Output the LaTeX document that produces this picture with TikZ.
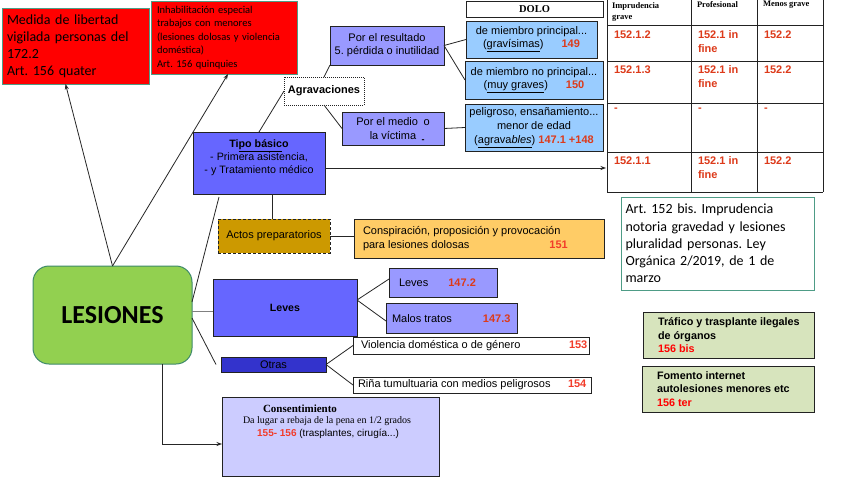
\documentclass[tikz,border=0pt]{standalone}
\usepackage{fontspec}
\setmainfont{Liberation Sans}
\newfontfamily\calib{Carlito}
\newfontfamily\tnr{Liberation Serif}
\usetikzlibrary{arrows.meta}
\definecolor{redfill}{HTML}{FF0000}
\definecolor{tealb}{HTML}{4E9C86}
\definecolor{lav}{HTML}{9999FF}
\definecolor{midblue}{HTML}{6666FF}
\definecolor{darkblue}{HTML}{3333CC}
\definecolor{lblue}{HTML}{99CCFF}
\definecolor{gold}{HTML}{CC9900}
\definecolor{lorange}{HTML}{FFCC66}
\definecolor{lgreen}{HTML}{92D050}
\definecolor{lesb}{HTML}{3E8A6A}
\definecolor{pgreen}{HTML}{D7E4BD}
\definecolor{lilac}{HTML}{CCCCFF}
\definecolor{numred}{HTML}{DD3A1A}
\definecolor{numredb}{HTML}{F23C2A}
\definecolor{lineg}{HTML}{222222}
\newcommand{\fsz}[2]{\fontsize{#1}{#2}\selectfont}
\frenchspacing
\begin{document}
\begin{tikzpicture}[x=1pt,y=-1pt,
  box/.style={draw=lineg, line width=1pt, inner sep=0pt, outer sep=0pt, align=center},
  txt/.style={inner sep=0pt, outer sep=0pt, align=left},
  cell/.style={inner sep=0pt, outer sep=0pt, align=left, anchor=north west, text=numred, font=\bfseries\fsz{11}{13.5}},
  hcell/.style={inner sep=0pt, outer sep=0pt, align=left, anchor=north west, font=\tnr\bfseries\fsz{8.5}{11}},
  conn/.style={draw=black!85, line width=0.8pt},
  arr/.style={conn, -{Stealth[length=5.5pt,width=4pt]}},
]
\fill[white] (0,0) rectangle (848,477);
\useasboundingbox (0,0) rectangle (848,477);

% red boxes
\node[box, draw=tealb, fill=redfill, minimum width=147pt, minimum height=76pt, text width=137pt, align=left, font=\calib\fsz{14}{17}] (red1) at (75.5,46) {Medida de libertad\\vigilada personas del\\172.2\\Art. 156 quater};
\node[box, draw=tealb, fill=redfill, minimum width=146pt, minimum height=73pt, text width=134pt, align=left, font=\calib\fsz{10.5}{13.5}] (red2) at (224,37.5) {Inhabilitación especial\\trabajos con menores\\(lesiones dolosas y violencia\\doméstica)\\Art. 156 quinquies};

% agravaciones
\node[box, fill=white, dash pattern=on 1pt off 1pt, minimum width=80pt, minimum height=28pt, font=\bfseries\fsz{11}{13}] (agrav) at (324,91) {Agravaciones};
\node[box, fill=lav, minimum width=114pt, minimum height=39pt, font=\fsz{11}{13}] (res) at (387,45.5) {Por el resultado\\5. pérdida o inutilidad};
\node[box, fill=lav, minimum width=102pt, minimum height=33pt, font=\fsz{11}{13.5}] (medio) at (393,128.5) {Por el medio\enspace o\\la víctima\hspace{10pt}};
\node[txt, font=\bfseries\fsz{9}{9}] (mdash) at (423,141) {-};

\node[box, fill=white, minimum width=137pt, minimum height=16pt, font=\tnr\bfseries\fsz{10.5}{12}] (dolo) at (534.5,9) {DOLO};
\node[box, fill=lblue, minimum width=131pt, minimum height=37pt, font=\fsz{11}{13}] (b1) at (531.5,39.5) {de miembro principal...\\(\underline{gravísimas})\hspace{18pt}\textcolor{numred}{\textbf{149}}};
\node[box, fill=lblue, minimum width=138pt, minimum height=38pt, font=\fsz{11}{13}] (b2) at (534,80) {de miembro no principal...\\(\underline{muy graves})\hspace{18pt}\textcolor{numred}{\textbf{150}}};
\node[box, fill=lblue, minimum width=138pt, minimum height=47pt, font=\fsz{11}{14}] (b3) at (534,127.5) {peligroso, ensañamiento...\\menor de edad\\(\underline{agrava\textit{bles}}) \textcolor{numred}{\textbf{147.1 +148}}};

% table
\foreach \xx in {607,691,757,823} \draw[lineg, line width=1pt] (\xx,-2) -- (\xx,192);
\foreach \yy in {25,61,103,152,192} \draw[lineg, line width=1pt] (607,\yy) -- (823,\yy);
\node[hcell] (h1) at (612,3) {Imprudencia\\grave};
\node[hcell] (h2) at (697,2) {Profesional};
\node[hcell] (h3) at (763,1) {Menos grave};
\node[cell] (c11) at (614,31) {152.1.2};
\node[cell] (c12) at (698,31) {152.1 in\\fine};
\node[cell] (c13) at (764,31) {152.2};
\node[cell] (c21) at (614,66) {152.1.3};
\node[cell] (c22) at (698,66) {152.1 in\\fine};
\node[cell] (c23) at (764,66) {152.2};
\node[cell] (c31) at (614,108) {-};
\node[cell] (c32) at (698,108) {-};
\node[cell] (c33) at (764,108) {-};
\node[cell] (c41) at (614,157) {152.1.1};
\node[cell] (c42) at (698,157) {152.1 in\\fine};
\node[cell] (c43) at (764,157) {152.2};
\coordinate (tabin) at (606,168);

% tipo basico and actos
\node[box, fill=midblue, minimum width=132pt, minimum height=62pt, font=\fsz{10.7}{13}] (tipo) at (259,163) {\textbf{Ti\underline{po básic}o}\\- Primera asistencia,\\- y Tratamiento médico\\\mbox{}};
\coordinate (tipoend) at (219,197);
\node[box, fill=gold, dash pattern=on 3pt off 2pt, minimum width=112pt, minimum height=34pt, font=\fsz{11}{13}] (actos) at (274,236) {Actos preparatorios};
\node[box, fill=lorange, minimum width=250pt, minimum height=39pt] (consp) at (479,238.5) {};
\node[txt, anchor=west, font=\fsz{11}{14}] (consptxt) at (363,239) {Conspiración, proposición y provocación\\para lesiones dolosas\hspace{80pt}\textcolor{numredb}{\textbf{151}}};

% right notes
\node[box, draw=tealb, fill=white, minimum width=193pt, minimum height=93pt, text width=184pt, align=left, font=\calib\fsz{14}{17.3}] (art) at (717.5,243.5) {Art. 152 bis. Imprudencia\\notoria gravedad y lesiones\\pluralidad personas. Ley\\Orgánica 2/2019, de 1 de\\marzo};
\node[box, fill=pgreen, minimum width=171pt, minimum height=46pt] (g1) at (728.5,335) {};
\node[txt, anchor=west, font=\bfseries\fsz{10.8}{13.5}] (g1t) at (658,335.5) {Tráfico y trasplante ilegales\\de órganos\\\textcolor{red}{156 bis}};
\node[box, fill=pgreen, minimum width=172pt, minimum height=46pt] (g2) at (728,389) {};
\node[txt, anchor=west, font=\bfseries\fsz{10.8}{13.5}] (g2t) at (657,389) {Fomento internet\\autolesiones menores etc\\\textcolor{red}{156 ter}};

% lesiones
\node[box, draw=lesb, fill=lgreen, rounded corners=16pt, minimum width=159pt, minimum height=98pt, font=\calib\bfseries\fsz{26}{30}] (les) at (112.5,315) {LESIONES};
\node[box, fill=midblue, minimum width=144pt, minimum height=57pt, font=\bfseries\fsz{10.6}{13}] (leves) at (285,307.5) {Leves};
\node[box, fill=darkblue, minimum width=105pt, minimum height=15pt, font=\fsz{11}{13}] (otras) at (273.5,364.5) {Otras};

\node[box, fill=lav, minimum width=108pt, minimum height=29pt] (l147) at (443,282.5) {};
\node[txt, anchor=west, font=\fsz{11}{13}] (l147t) at (399,282.5) {Leves\hspace{20pt}\textcolor{numred}{\textbf{147.2}}};
\node[box, fill=lav, minimum width=131pt, minimum height=30pt] (malos) at (451.5,318) {};
\node[txt, anchor=west, font=\fsz{11}{13}] (malost) at (392,319) {Malos tratos\hspace{31pt}\textcolor{numred}{\textbf{147.3}}};

\node[box, fill=white, minimum width=236pt, minimum height=17pt] (viol) at (471,345.5) {};
\node[txt, anchor=west, font=\fsz{11}{13}] (violt) at (361,345.5) {\makebox[208pt][l]{Violencia doméstica o de género}\textcolor{numredb}{\textbf{153}}};
\node[box, fill=white, minimum width=238pt, minimum height=16pt] (rina) at (472,385) {};
\node[txt, anchor=west, font=\fsz{11}{13}] (rinat) at (358,385) {\makebox[210pt][l]{Riña tumultuaria con medios peligrosos}\textcolor{numredb}{\textbf{154}}};

\node[box, fill=lilac, minimum width=217pt, minimum height=79pt] (cons) at (330.5,436.5) {};
\node[txt, font=\tnr\bfseries\fsz{11}{13}] (cons1) at (300,409) {Consentimiento};
\node[txt, font=\tnr\fsz{10}{12}] (cons2) at (327,421) {Da lugar a rebaja de la pena en 1/2 grados};
\node[txt, font=\fsz{10}{12}] (cons3) at (328,434) {\textcolor{numredb}{\textbf{155- 156}} (trasplantes, cirugía...)};

% connectors
\draw[arr] (les.north) -- ([xshift=-10pt]red1.south);
\draw[arr] (les.north) -- ([xshift=4pt]red2.south);
\draw[conn] ([yshift=13pt]les.east) -- (tipoend);
\draw[conn, draw=gray] ([yshift=4pt]les.east) -- ([yshift=-3.5pt]leves.west);
\draw[conn] ([yshift=-3pt]les.east) -- ([xshift=-5pt]otras.west);
\draw[arr] ([xshift=49.5pt]les.south) |- ([yshift=-7.5pt]cons.west);
\draw[conn] (tipo.north) -- (agrav.west);
\draw[conn] (agrav.north) -- (res.south west);
\draw[conn] (agrav.south) -- (medio.west);
\draw[conn] (res.east) -- (b1.west);
\draw[conn] (res.east) -- (b2.west);
\draw[conn] (medio.east) -- (b3.west);
\draw[arr] ([yshift=-5pt]tipo.east) -- (tabin);
\draw[conn] ([xshift=13pt]tipo.south) -- ([xshift=-2pt]actos.north);
\draw[conn] (actos.east) -- (actos.east -| consp.west);
\draw[conn] ([yshift=7.5pt]leves.east) -- ([yshift=3.5pt]l147.west);
\draw[conn] ([yshift=7.5pt]leves.east) -- ([yshift=-3pt]malos.west);
\draw[conn] (otras.east) -- (viol.west);
\draw[conn] (otras.east) -- (rina.west);
\end{tikzpicture}
\end{document}
